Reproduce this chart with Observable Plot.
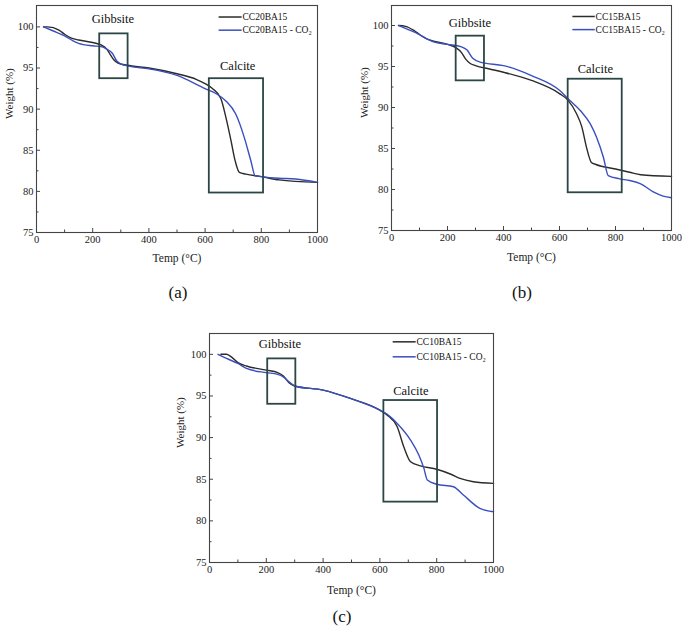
<!DOCTYPE html>
<html><head>
<meta charset="utf-8">
<script src="https://cdn.jsdelivr.net/npm/d3@7"></script>
<script src="https://cdn.jsdelivr.net/npm/@observablehq/plot@0.6"></script>
<style>
body{margin:0;background:#fff;}
#root{position:relative;width:685px;height:627px;overflow:hidden;}
.panel{position:absolute;}
.panel, .panel text{font-family:"Liberation Serif","Times New Roman",serif !important;}
.plab{position:absolute;font-family:"Liberation Serif","Times New Roman",serif;font-size:17px;color:#111;transform:translate(-50%,-50%);}
</style>
</head><body><div id="root"></div>
<script>
// ---- data: panel (a) CC20BA15 ----
const tempA_black = [25,40,80,100,120,150,200,230,250,265,275,290,330,400,500,570,600,626,656,674,692,707,722,745,800,863,1000];
const wA_black    = [100,100,99.6,99.1,98.7,98.4,98.1,97.8,97.3,96.5,96.0,95.6,95.3,95.0,94.3,93.6,93.1,92.5,91.3,89.0,86.2,83.7,82.3,82.1,81.8,81.4,81.1];
const tempA_blue  = [25,60,100,130,150,200,230,250,270,285,300,332,400,500,600,638,674,709,739,763,778,800,863,922,1000];
const wA_blue     = [100,99.5,98.9,98.3,98.0,97.7,97.6,97.3,96.8,95.9,95.5,95.2,94.9,94.1,92.5,91.9,91.0,89.4,86.6,83.7,81.9,81.8,81.6,81.5,81.1];
// ---- data: panel (b) CC15BA15 ----
const tempB_black = [25,50,80,100,130,150,200,230,250,265,280,300,350,400,500,600,630,660,680,696,714,730,800,850,890,1000];
const wB_black    = [100,99.9,99.4,98.9,98.3,98.1,97.7,97.3,96.7,95.9,95.4,95.1,94.7,94.3,93.3,91.7,90.9,89.3,87.6,85.2,83.3,83.05,82.5,82.1,81.8,81.6];
const tempB_blue  = [25,60,100,130,150,200,250,270,290,320,400,450,500,600,630,675,710,732,757,774,815,850,890,935,970,1000];
const wB_blue     = [100,99.5,98.9,98.3,98.0,97.7,97.4,97.0,96.0,95.5,95.1,94.6,93.9,92.1,91.1,89.6,88.0,86.4,83.9,81.7,81.3,81.1,80.7,79.7,79.2,79.0];
// ---- data: panel (c) CC10BA15 ----
const tempC_black = [40,60,80,100,130,200,240,260,280,300,400,496,600,626,661,684,708,743,800,850,882,929,1000];
const wC_black    = [100,100,99.6,99.0,98.6,98.1,97.8,97.4,96.6,96.2,95.7,94.7,93.3,92.7,91.3,88.9,87.1,86.6,86.2,85.6,85.1,84.7,84.5];
const tempC_blue  = [30,60,100,130,200,240,260,280,300,400,496,600,626,661,708,737,755,767,800,859,894,952,1000];
const wC_blue     = [100,99.5,98.9,98.3,97.8,97.6,97.3,96.7,96.2,95.7,94.7,93.3,92.8,91.7,89.7,87.9,86.3,84.9,84.4,84.1,83.1,81.5,81.1];

// axis ticks
const xMajor = [0,200,400,600,800,1000];
const xMinor = [100,300,500,700,900];
const yMajor = [75,80,85,90,95,100];
const yMinor = [77.5,82.5,87.5,92.5,97.5];

// annotation boxes [x1,x2,y1,y2] and labels
const boxesA = [[225,326,93.7,99.15],[615,808,79.8,93.7]];
const boxesB = [[231,332,93.25,98.7],[631,824,79.6,93.45]];
const boxesC = [[205,304,94.0,99.45],[614,803,82.25,94.45]];
const boxLabelsA = [["Gibbsite",272,101.0],["Calcite",716,95.2]];
const boxLabelsB = [["Gibbsite",280,100.3],["Calcite",728,94.7]];
const boxLabelsC = [["Gibbsite",248,101.2],["Calcite",709,95.6]];
const seriesA = ["CC20BA15","CC20BA15 - CO₂"];
const seriesB = ["CC15BA15","CC15BA15 - CO₂"];
const seriesC = ["CC10BA15","CC10BA15 - CO₂"];
const legendA = {x1:648,x2:730,xt:733,ys:[101.2,99.6]};
const legendB = {x1:646,x2:726,xt:729,ys:[101.1,99.5]};
const legendC = {x1:645,x2:726,xt:729,ys:[101.5,99.7]};
const panelLetters = ["(a)","(b)","(c)"];

const BLACK = "#2b2b2b", BLUE = "#3a4fbf", BOX = "#2c4646", FR = "#444";
const FONT = '"Liberation Serif", "Times New Roman", serif';
const fmt = d3.format("d");

function rows(t,w){ return t.map((x,i)=>({t:x,w:w[i]})); }

function panel(cfg){
  const black = rows(cfg.tb, cfg.wb), blue = rows(cfg.tu, cfg.wu);
  const boxes = cfg.boxes.map(b=>({x1:b[0],x2:b[1],y1:b[2],y2:b[3]}));
  const bl = cfg.boxLabels.map(b=>({s:b[0],x:b[1],y:b[2]}));
  const leg = cfg.series.map((s,i)=>({s, y:cfg.legend.ys[i], c:[BLACK,BLUE][i]}));
  return Plot.plot({
    width: cfg.width, height: cfg.height,
    marginLeft: cfg.ml, marginRight: cfg.mr, marginTop: cfg.mt, marginBottom: cfg.mb,
    style: {fontFamily: FONT, color: "#222", background: "transparent", overflow: "visible"},
    x: {domain: [0,1000]},
    y: {domain: [75, cfg.ytop]},
    marks: [
      Plot.axisX(xMajor, {tickSize: 0, tickPadding: 3, fontSize: 10.5, label: null, fill:"#222", tickFormat: fmt}),
      Plot.axisX(xMajor, {tickSize: -4, tickFormat: () => "", label: null, stroke: FR}),
      Plot.axisX(xMinor, {tickSize: -2.5, tickFormat: () => "", label: null, stroke: FR}),
      Plot.axisY(yMajor, {tickSize: 0, tickPadding: 3, fontSize: 10.5, label: null, fill:"#222", tickFormat: fmt}),
      Plot.axisY(yMajor, {tickSize: -4, tickFormat: () => "", label: null, stroke: FR}),
      Plot.axisY(yMinor, {tickSize: -2.5, tickFormat: () => "", label: null, stroke: FR}),
      Plot.line(black, {x:"t", y:"w", stroke: BLACK, strokeWidth: 1.4, curve: "monotone-x"}),
      Plot.line(blue, {x:"t", y:"w", stroke: BLUE, strokeWidth: 1.4, curve: "monotone-x"}),
      Plot.rect(boxes, {x1:"x1", x2:"x2", y1:"y1", y2:"y2", fill:"none", stroke: BOX, strokeWidth: 1.8}),
      Plot.text(bl, {x:"x", y:"y", text:"s", fontSize: 12.5, fill:"#111"}),
      Plot.link(leg, {x1: ()=>cfg.legend.x1, x2: ()=>cfg.legend.x2, y1:"y", y2:"y", stroke: d=>d.c, strokeWidth: 1.5}),
      Plot.text(leg, {x: ()=>cfg.legend.xt, y:"y", text:"s", textAnchor:"start", fontSize: 9.5, fill:"#111"}),
      Plot.frame({stroke: FR, strokeWidth: 1.1}),
      Plot.text(["Temp (°C)"], {frameAnchor:"bottom", dy: cfg.xlabDy, lineAnchor:"middle", fontSize: 11.5, fill:"#222"}),
      Plot.text(["Weight (%)"], {frameAnchor:"left", dx: cfg.ylabDx, rotate:-90, lineAnchor:"middle", fontSize: 11, fill:"#222"})
    ]
  });
}

const cfgs = [
  {left:0, top:0, width:330, height:268, ml:36, mr:13, mt:5, mb:36, ytop:102.6,
   tb:tempA_black, wb:wA_black, tu:tempA_blue, wu:wA_blue, boxes:boxesA, boxLabels:boxLabelsA,
   series:seriesA, legend:legendA, xlabDy:26, ylabDx:-27},
  {left:345, top:0, width:340, height:268, ml:46, mr:14, mt:5, mb:38, ytop:102.44,
   tb:tempB_black, wb:wB_black, tu:tempB_blue, wu:wB_blue, boxes:boxesB, boxLabels:boxLabelsB,
   series:seriesB, legend:legendB, xlabDy:26.5, ylabDx:-27.5},
  {left:160, top:320, width:350, height:285, ml:49, mr:17, mt:13, mb:43, ytop:102.5,
   tb:tempC_black, wb:wC_black, tu:tempC_blue, wu:wC_blue, boxes:boxesC, boxLabels:boxLabelsC,
   series:seriesC, legend:legendC, xlabDy:27.5, ylabDx:-29}
];
const root = document.getElementById("root");
cfgs.forEach(c=>{
  const el = panel(c);
  el.classList.add("panel");
  el.style.left = c.left+"px"; el.style.top = c.top+"px";
  root.appendChild(el);
});
const letterPos = [[178,293],[522,293],[342,617]];
panelLetters.forEach((s,i)=>{
  const d = document.createElement("div");
  d.className = "plab"; d.textContent = s;
  d.style.left = letterPos[i][0]+"px"; d.style.top = letterPos[i][1]+"px";
  root.appendChild(d);
});
</script></body></html>
